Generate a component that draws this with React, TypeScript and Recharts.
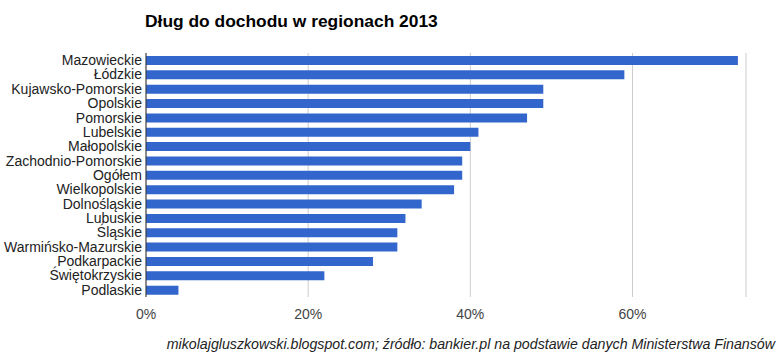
import { BarChart, Bar, XAxis, YAxis, CartesianGrid } from "recharts";

const regions = [
  "Mazowieckie",
  "Łódzkie",
  "Kujawsko-Pomorskie",
  "Opolskie",
  "Pomorskie",
  "Lubelskie",
  "Małopolskie",
  "Zachodnio-Pomorskie",
  "Ogółem",
  "Wielkopolskie",
  "Dolnośląskie",
  "Lubuskie",
  "Śląskie",
  "Warmińsko-Mazurskie",
  "Podkarpackie",
  "Świętokrzyskie",
  "Podlaskie",
];

// dług do dochodu, %
const debtRatio = [73, 59, 49, 49, 47, 41, 40, 39, 39, 38, 34, 32, 31, 31, 28, 22, 4];

const xTicks = [0, 20, 40, 60];

const title = "Dług do dochodu w regionach 2013";
const source =
  "mikolajgluszkowski.blogspot.com; źródło: bankier.pl na podstawie danych Ministerstwa Finansów";

const font = "Arial, 'Liberation Sans', sans-serif";

export default function App() {
  const data = regions.map((name, i) => ({ name, value: debtRatio[i] }));
  return (
    <div style={{ position: "relative", width: 778, height: 363, fontFamily: font, background: "#fff" }}>
      <style>{`body{margin:0}`}</style>
      <div
        style={{
          position: "absolute",
          left: 145,
          top: 11,
          fontSize: 17.4,
          fontWeight: "bold",
          color: "#000",
          whiteSpace: "nowrap",
        }}
      >
        {title}
      </div>
      <BarChart
        width={778}
        height={363}
        data={data}
        layout="vertical"
        margin={{ top: 53, right: 32, bottom: 36, left: 0 }}
        barCategoryGap={0}
      >
        <CartesianGrid horizontal={false} vertical stroke="#cccccc" />
        <XAxis
          type="number"
          domain={[0, 74]}
          ticks={xTicks}
          tickFormatter={(v) => `${v}%`}
          axisLine={false}
          tickLine={false}
          tickSize={0}
          tickMargin={12}
          height={30}
          tick={{ fill: "#444", fontSize: 14, fontFamily: font }}
        />
        <YAxis
          type="category"
          dataKey="name"
          width={146}
          interval={0}
          axisLine={{ stroke: "#333" }}
          tickLine={false}
          tickSize={0}
          tickMargin={4}
          tick={{ fill: "#222", fontSize: 14, fontFamily: font }}
        />
        <Bar dataKey="value" fill="#3366cc" barSize={9} isAnimationActive={false} />
      </BarChart>
      <div
        style={{
          position: "absolute",
          right: 3,
          top: 336,
          fontSize: 14.2,
          fontStyle: "italic",
          color: "#222",
          whiteSpace: "nowrap",
        }}
      >
        {source}
      </div>
    </div>
  );
}
